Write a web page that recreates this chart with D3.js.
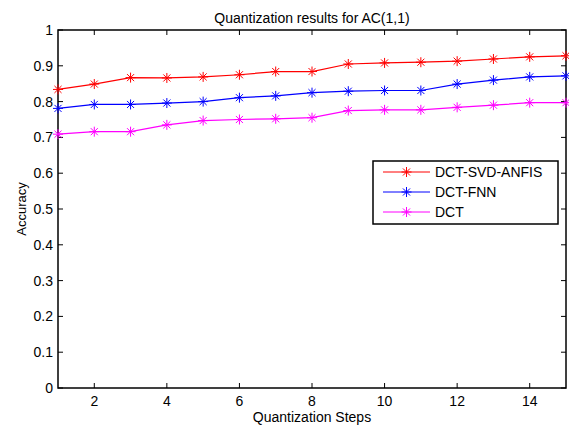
<!DOCTYPE html>
<html>
<head>
<meta charset="utf-8">
<script src="https://cdn.jsdelivr.net/npm/d3@7"></script>
<style>
  body { margin: 0; background: #fff; }
  svg { display: block; font-family: "Liberation Sans", Arial, sans-serif; }
</style>
</head>
<body>
<div id="main"></div>
<script>
const steps = d3.range(1, 16);
const seriesNames = ['DCT-SVD-ANFIS', 'DCT-FNN', 'DCT'];
const seriesColors = ['#ff0000', '#0000ff', '#ff00ff'];
const anfis = [0.834, 0.849, 0.867, 0.866, 0.869, 0.875, 0.884, 0.884, 0.905, 0.908, 0.910, 0.913, 0.919, 0.925, 0.928];
const fnn = [0.781, 0.792, 0.792, 0.796, 0.800, 0.811, 0.816, 0.825, 0.829, 0.831, 0.831, 0.849, 0.860, 0.869, 0.872];
const dct = [0.709, 0.716, 0.716, 0.735, 0.747, 0.750, 0.752, 0.755, 0.775, 0.777, 0.777, 0.784, 0.790, 0.797, 0.797];
const xTicks = [2, 4, 6, 8, 10, 12, 14];
const yTicks = d3.range(0, 11).map(d => d / 10);

const width = 569, height = 427;
const margin = {top: 30, right: 3, bottom: 39, left: 58};

const svg = d3.select('#main').append('svg')
    .attr('width', width)
    .attr('height', height);

const x = d3.scaleLinear().domain([1, 15]).range([margin.left, width - margin.right]);
const y = d3.scaleLinear().domain([0, 1]).range([height - margin.bottom, margin.top]);

const series = [anfis, fnn, dct].map((values, i) => ({
  name: seriesNames[i],
  color: seriesColors[i],
  values: values.map((v, j) => ({x: steps[j], y: v}))
}));

// frame
svg.append('rect')
    .attr('x', x(1)).attr('y', y(1))
    .attr('width', x(15) - x(1)).attr('height', y(0) - y(1))
    .attr('fill', 'none').attr('stroke', '#000').attr('stroke-width', 1.5);

const tickLen = 5;
const axisG = svg.append('g').attr('stroke', '#000').attr('stroke-width', 1);

axisG.selectAll('.xt-b').data(xTicks).join('line')
    .attr('x1', d => x(d)).attr('x2', d => x(d))
    .attr('y1', y(0)).attr('y2', y(0) - tickLen);
axisG.selectAll('.xt-t').data(xTicks).join('line')
    .attr('x1', d => x(d)).attr('x2', d => x(d))
    .attr('y1', y(1)).attr('y2', y(1) + tickLen);
axisG.selectAll('.yt-l').data(yTicks).join('line')
    .attr('y1', d => y(d)).attr('y2', d => y(d))
    .attr('x1', x(1)).attr('x2', x(1) + tickLen);
axisG.selectAll('.yt-r').data(yTicks).join('line')
    .attr('y1', d => y(d)).attr('y2', d => y(d))
    .attr('x1', x(15)).attr('x2', x(15) - tickLen);

svg.append('g').selectAll('text').data(xTicks).join('text')
    .attr('x', d => x(d)).attr('y', y(0) + 18)
    .attr('text-anchor', 'middle').attr('font-size', 14)
    .text(d => d);

svg.append('g').selectAll('text').data(yTicks).join('text')
    .attr('x', x(1) - 5).attr('y', d => y(d) + 5)
    .attr('text-anchor', 'end').attr('font-size', 14)
    .text(d => d3.format('~g')(d));

svg.append('text')
    .attr('x', (x(1) + x(15)) / 2).attr('y', 23)
    .attr('text-anchor', 'middle').attr('font-size', 14)
    .text('Quantization results for AC(1,1)');

svg.append('text')
    .attr('x', (x(1) + x(15)) / 2).attr('y', 422)
    .attr('text-anchor', 'middle').attr('font-size', 14)
    .text('Quantization Steps');

svg.append('text')
    .attr('transform', `translate(26,${(y(0) + y(1)) / 2}) rotate(-90)`)
    .attr('text-anchor', 'middle').attr('font-size', 13)
    .text('Accuracy');

const line = d3.line().x(d => x(d.x)).y(d => y(d.y));

function asterisk(g, cx, cy, color, r) {
  const a = r * Math.SQRT1_2;
  const p = `M${cx - r},${cy}L${cx + r},${cy}M${cx},${cy - r}L${cx},${cy + r}` +
    `M${cx - a},${cy - a}L${cx + a},${cy + a}M${cx - a},${cy + a}L${cx + a},${cy - a}`;
  g.append('path').attr('d', p).attr('stroke', color).attr('stroke-width', 1).attr('fill', 'none');
}

const plot = svg.append('g');
series.forEach(s => {
  plot.append('path')
      .datum(s.values)
      .attr('d', line)
      .attr('fill', 'none')
      .attr('stroke', s.color)
      .attr('stroke-width', 1.2);
  s.values.forEach(d => asterisk(plot, x(d.x), y(d.y), s.color, 5));
});

// legend
const legend = svg.append('g');
legend.append('rect')
    .attr('x', 373).attr('y', 161).attr('width', 185).attr('height', 63)
    .attr('fill', '#fff').attr('stroke', '#000').attr('stroke-width', 1.5);
series.forEach((s, i) => {
  const ly = 172 + i * 20;
  legend.append('line')
      .attr('x1', 383).attr('x2', 430).attr('y1', ly).attr('y2', ly)
      .attr('stroke', s.color).attr('stroke-width', 1);
  asterisk(legend, 406.5, ly, s.color, 5);
  legend.append('text')
      .attr('x', 435).attr('y', ly + 5)
      .attr('font-size', 14)
      .text(s.name);
});
</script>
</body>
</html>
